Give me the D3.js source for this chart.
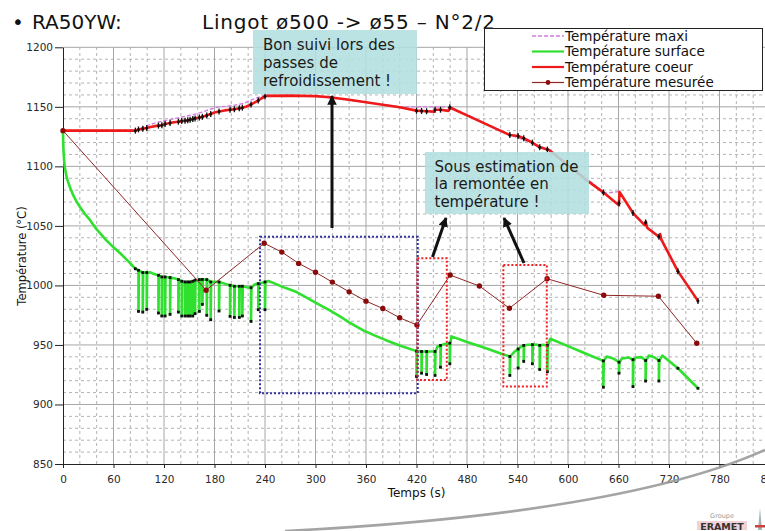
<!DOCTYPE html>
<html>
<head>
<meta charset="utf-8">
<script src="https://cdn.jsdelivr.net/npm/d3@7"></script>
<style>
  html, body { margin: 0; padding: 0; background: #fff; }
  svg { display: block; font-family: "DejaVu Sans", Verdana, sans-serif; }
</style>
</head>
<body>
<svg id="chart" width="765" height="531"></svg>
<script>
// ---- axes ----
const xTickValues = [0, 60, 120, 180, 240, 300, 360, 420, 480, 540, 600, 660, 720, 780, 840];
const yTickValues = [850, 900, 950, 1000, 1050, 1100, 1150, 1200];

// ---- legend ----
const seriesNames = ["Température maxi", "Température surface", "Température coeur", "Température mesurée"];

// ---- series: [time (s), temperature (°C)] ----
const maxiTemp = [
  [0, 1130], [88, 1130.5], [95, 1133], [105, 1135.5], [115, 1137.5], [125, 1139], [135, 1140.5],
  [145, 1142], [155, 1143.5], [165, 1145.5], [175, 1148], [185, 1150], [195, 1150.5], [205, 1151.5],
  [215, 1153], [225, 1156], [232, 1158], [241, 1159.5], [300, 1159.2], [400, 1150], [460, 1150],
  [531, 1126.5], [578, 1114], [644, 1077.5], [661, 1078.8], [677, 1061.2], [691, 1051], [708, 1041.2],
  [730, 1012.2], [754, 987.2]
];

// surface: [time, temperature, temperature at the bottom of a cooling pass (optional)]
const surfaceTemp = [
  [0, 1130], [0.3, 1118], [1, 1108], [2, 1100], [4, 1092], [6, 1087], [8.5, 1082], [12, 1076],
  [16, 1070.5], [20, 1066], [26, 1060], [32, 1055], [40, 1047], [50, 1039], [60, 1032], [68, 1027],
  [78, 1020], [86, 1014],
  [89.7, 1012.7, 978.2], [94.8, 1010.8, 977.6], [99.5, 1010.8, 979.9], [104, 1011], [108, 1009.5],
  [113.4, 1008.5, 976.8], [117.4, 1007.1, 974.3], [121.3, 1007.1, 974.3], [127.2, 1006.6, 975.7], [132, 1006],
  [137.1, 1004.9, 977.6], [141.1, 1003.5, 974.3], [145, 1002.9, 974.3], [148.2, 1002.9, 974.3],
  [151, 1002.9, 974.3], [154.2, 1003.5, 974.3], [156.9, 1004.4, 976.3], [162, 1004.9, 978.2],
  [165.6, 1005, 984.1], [170.8, 1004.9, 974.9], [175.5, 1002.9, 971.2], [180, 1003], [185.4, 1002.9, 978.5],
  [192, 1001.5], [198.5, 1000.1, 974], [203.6, 999.3, 973.1], [209.5, 999.3, 973.1], [213.1, 999.3, 974.3],
  [218, 998.5], [223.4, 998.1, 969.8], [228, 1001], [232, 1001.5, 979.6], [236, 1002], [240, 1002.9, 979.6],
  [244, 1003.7], [252, 1001.5], [260, 999], [268, 997], [277.6, 994.4], [290, 989.5], [300, 985.5],
  [317, 979], [330, 973.5], [340, 969], [356.7, 962.2], [370, 958], [384.4, 953.8], [400, 949.6],
  [420, 944.8, 923.5], [426, 944.5, 926.3], [432, 944.5, 925.2], [437, 944.5],
  [442, 944.5, 924.4], [445, 948.7], [448.5, 949.6, 931.3], [452, 950.5], [459.6, 951.5, 934.2], [461.6, 957.2],
  [480, 952.5], [500, 947.8], [520, 942.8], [530.9, 940.3, 924.4], [536, 944], [540.7, 946.6, 930.6],
  [544, 948.5], [547.4, 949.6, 936.2], [552, 950.2], [557.7, 950.2, 934.2], [562, 950.4], [566.4, 949.6, 929.4],
  [570, 950.2], [575.5, 949.6, 927.5], [579, 955.2], [600, 949], [620, 943], [642, 936.6, 914.5], [646, 940.3],
  [654, 938.5], [660.6, 935.5, 926.3], [664, 938.6], [672, 939.4], [677.2, 937.6, 915], [681, 939.4],
  [687, 939.8], [692.2, 936.9, 919.7], [696, 941.1], [703, 939.5], [708, 936.9, 919.7], [712, 941.1],
  [730.6, 930.4], [754.4, 913.6]
];

const coreTemp = [
  [0, 1130], [86, 1130], [89.7, 1131], [94.8, 1131.5], [99.5, 1132.3], [104, 1133], [111, 1134], [117.4, 1134.5],
  [121.3, 1135.5], [127.2, 1136.5], [132, 1137], [137.1, 1137.5], [141.1, 1138], [147, 1138.5], [151, 1139.2],
  [156.9, 1140.3], [162, 1141], [165.6, 1141.6], [170.8, 1142.8], [175.5, 1144], [180, 1145.2], [185.4, 1146],
  [192, 1147], [198.5, 1147.6], [203.6, 1148], [209.5, 1148.8], [213.1, 1149.3], [218, 1150.3], [223.4, 1152],
  [228, 1153.8], [232, 1155.3], [236, 1157.2], [241, 1159.2], [270, 1159.4], [300, 1159], [317, 1158],
  [340, 1156], [370, 1152.8], [400, 1149.7], [420, 1146.8], [432, 1146.3], [441, 1146], [442, 1147.5],
  [448.5, 1147.6], [458, 1146.6], [459.6, 1149.6], [461.6, 1148.8], [480, 1142.8], [500, 1136.3],
  [520, 1129.8], [530.9, 1126.3], [540.7, 1125.5], [547.4, 1123.6], [557.7, 1119.9], [566.4, 1116],
  [577.5, 1113.7], [600, 1101], [620, 1089.5], [643.6, 1077.3], [660.5, 1067.4], [661.2, 1078.6],
  [677, 1061], [691, 1050.6], [692.5, 1053.5], [694, 1048.5], [708, 1040.8], [709.5, 1043], [711, 1038.5],
  [730.5, 1012], [754.4, 987]
];

const measuredTemp = [
  [0, 1130], [170, 996], [239, 1035.4], [260, 1028], [280, 1018.5], [300, 1011], [320, 1002.8], [340, 994.6],
  [360, 986.8], [380, 980.6], [400, 972.8], [420.5, 966.8], [460, 1008.7], [494.7, 999.5], [530.4, 980.8],
  [575.2, 1005.6], [642.5, 991.7], [707.4, 990.9], [753, 951.4]
];

// recorded instants without a cooling drop (start of the passes and final points)
const extraMarkTimes = [86, 730.6, 754.4];

// highlighted zones: [t0, t1, T low, T high]
const zoneGood = [234.1, 421.5, 909.4, 1040.9];
const zonesUnder = [[421, 456, 920.6, 1022.8], [523.2, 574.8, 915, 1017.2]];

// ---- drawing ----
const svg = d3.select("#chart");
const x = d3.scaleLinear().domain([0, 840]).range([63, 770]);
const y = d3.scaleLinear().domain([850, 1200]).range([464, 47.3]);

// grid
const grid = svg.append("g");
d3.range(20, 841, 20).filter(t => t % 60 !== 0).forEach(t => {
  grid.append("line").attr("x1", x(t)).attr("x2", x(t)).attr("y1", y(850)).attr("y2", y(1200))
    .attr("stroke", "#b4b4b4").attr("stroke-width", 1).attr("stroke-dasharray", "3,3");
});
d3.range(860, 1200, 10).filter(v => v % 50 !== 0).forEach(v => {
  grid.append("line").attr("x1", x(0)).attr("x2", x(840)).attr("y1", y(v)).attr("y2", y(v))
    .attr("stroke", "#b4b4b4").attr("stroke-width", 1).attr("stroke-dasharray", "3,3");
});
xTickValues.filter(t => t > 0).forEach(t => {
  grid.append("line").attr("x1", x(t)).attr("x2", x(t)).attr("y1", y(850)).attr("y2", y(1200))
    .attr("stroke", "#a6a6a6").attr("stroke-width", 1);
});
yTickValues.filter(v => v > 850).forEach(v => {
  grid.append("line").attr("x1", x(0)).attr("x2", x(840)).attr("y1", y(v)).attr("y2", y(v))
    .attr("stroke", "#a6a6a6").attr("stroke-width", 1);
});

// axes
const axisY = svg.append("g").attr("transform", `translate(${x(0)},0)`)
  .call(d3.axisLeft(y).tickValues(yTickValues).tickSize(8).tickSizeOuter(0).tickPadding(2).tickFormat(d3.format("d")));
const axisX = svg.append("g").attr("transform", `translate(0,${y(850)})`)
  .call(d3.axisBottom(x).tickValues(xTickValues).tickSize(4).tickSizeOuter(0).tickPadding(8).tickFormat(d3.format("d")));
[axisX, axisY].forEach(a => {
  a.select(".domain").attr("stroke", "#222");
  a.selectAll(".tick line").attr("stroke", "#222");
  a.selectAll("text").attr("fill", "#2a2a2a").style("font-size", "10.5px").style("font-family", "DejaVu Sans, Verdana, sans-serif");
});

svg.append("text").attr("x", x(420)).attr("y", 496.5).attr("text-anchor", "middle")
  .style("font-size", "12px").attr("fill", "#111").text("Temps (s)");
svg.append("text").attr("transform", `translate(26,${256}) rotate(-90)`).attr("text-anchor", "middle")
  .style("font-size", "11.5px").attr("fill", "#111").text("Température (°C)");

const line = d3.line().x(d => x(d[0])).y(d => y(d[1]));

// surface temperature with its cooling-pass drops
const surfaceLine = surfaceTemp.flatMap(d => d.length > 2 ? [[d[0], d[1]], [d[0], d[2]], [d[0] + 0.5, d[1]]] : [[d[0], d[1]]]);
svg.append("path").attr("d", line(surfaceLine)).attr("fill", "none")
  .attr("stroke", "#2fe02f").attr("stroke-width", 2.6).attr("stroke-linejoin", "round");

// maximum temperature
svg.append("path").attr("d", line(maxiTemp)).attr("fill", "none")
  .attr("stroke", "#d27fe0").attr("stroke-width", 1.4).attr("stroke-dasharray", "4,2");

// core temperature
svg.append("path").attr("d", line(coreTemp)).attr("fill", "none")
  .attr("stroke", "#ee1a1a").attr("stroke-width", 2.6).attr("stroke-linejoin", "round");

// recorded instants
const passTimes = surfaceTemp.filter(d => d.length > 2).map(d => d[0]);
const markTimes = passTimes.concat(extraMarkTimes);
const surfaceAt = d3.scaleLinear().domain(surfaceTemp.map(d => d[0])).range(surfaceTemp.map(d => d[1]));
const coreAt = d3.scaleLinear().domain(coreTemp.map(d => d[0])).range(coreTemp.map(d => d[1])).clamp(true);

const surfaceMarks = surfaceTemp.filter(d => d.length > 2).flatMap(d => [[d[0], d[1]], [d[0], d[2]]])
  .concat(extraMarkTimes.map(t => [t, surfaceAt(t)]));
svg.append("g").selectAll("rect").data(surfaceMarks).join("rect")
  .attr("x", d => x(d[0]) - 1.4).attr("y", d => y(d[1]) - 1.4).attr("width", 2.8).attr("height", 2.8)
  .attr("fill", "#111");

const coreMarks = svg.append("g");
coreMarks.selectAll("line").data(markTimes).join("line")
  .attr("x1", t => x(t)).attr("x2", t => x(t))
  .attr("y1", t => y(coreAt(t)) - 3).attr("y2", t => y(coreAt(t)) + 3)
  .attr("stroke", "#111").attr("stroke-width", 1.3);
coreMarks.selectAll("circle").data(markTimes).join("circle")
  .attr("cx", t => x(t)).attr("cy", t => y(coreAt(t))).attr("r", 1.5).attr("fill", "#111");

// measured temperature
svg.append("path").attr("d", line(measuredTemp)).attr("fill", "none")
  .attr("stroke", "#8e2626").attr("stroke-width", 1);
svg.append("g").selectAll("circle").data(measuredTemp).join("circle")
  .attr("cx", d => x(d[0])).attr("cy", d => y(d[1])).attr("r", 2.7).attr("fill", "#8b0a0a");

// highlighted zones
svg.append("rect").attr("x", x(zoneGood[0])).attr("y", y(zoneGood[3]))
  .attr("width", x(zoneGood[1]) - x(zoneGood[0])).attr("height", y(zoneGood[2]) - y(zoneGood[3]))
  .attr("fill", "none").attr("stroke", "#34349e").attr("stroke-width", 2).attr("stroke-dasharray", "2,2");
zonesUnder.forEach(z => {
  svg.append("rect").attr("x", x(z[0])).attr("y", y(z[3]))
    .attr("width", x(z[1]) - x(z[0])).attr("height", y(z[2]) - y(z[3]))
    .attr("fill", "none").attr("stroke", "#ee2222").attr("stroke-width", 2).attr("stroke-dasharray", "2,2");
});

// arrows
const defs = svg.append("defs");
defs.append("marker").attr("id", "head").attr("viewBox", "0 0 10 10").attr("refX", 9).attr("refY", 5)
  .attr("markerWidth", 3.2).attr("markerHeight", 3.2).attr("orient", "auto")
  .append("path").attr("d", "M0,0 L10,5 L0,10 Z").attr("fill", "#111");
[[332, 228, 332, 96], [432.5, 257, 446, 218], [524, 263, 504, 218]].forEach(a => {
  svg.append("line").attr("x1", a[0]).attr("y1", a[1]).attr("x2", a[2]).attr("y2", a[3])
    .attr("stroke", "#111").attr("stroke-width", 3).attr("marker-end", "url(#head)");
});

// comment boxes
function noteBox(bx, by, bw, bh, lines, tx, ty, lh) {
  svg.append("rect").attr("x", bx).attr("y", by).attr("width", bw).attr("height", bh)
    .attr("fill", "#b3dfdf").attr("fill-opacity", 0.88);
  const t = svg.append("text").attr("x", tx).attr("y", ty).style("font-size", "15px").attr("fill", "#1a1a1a");
  lines.forEach((s, i) => t.append("tspan").attr("x", tx).attr("y", ty + i * lh).text(s));
}
noteBox(253, 30, 164, 64, ["Bon suivi lors des", "passes de", "refroidissement !"], 263, 50, 18);
noteBox(425, 152, 164, 62, ["Sous estimation de", "la remontée en", "température !"], 434.5, 171.5, 17.6);

// title
svg.append("text").attr("x", 12).attr("y", 29).style("font-size", "20px").attr("fill", "#111").text("•");
svg.append("text").attr("x", 32).attr("y", 29).style("font-size", "20px").attr("fill", "#111").text("RA50YW:");
svg.append("text").attr("x", 202).attr("y", 29).style("font-size", "20px").attr("fill", "#111")
  .attr("textLength", 293).attr("lengthAdjust", "spacing").text("Lingot ø500 -> ø55 – N°2/2");

// legend
const legend = svg.append("g");
legend.append("rect").attr("x", 484.5).attr("y", 28.5).attr("width", 278).attr("height", 62)
  .attr("fill", "#fff").attr("stroke", "#222").attr("stroke-width", 1);
const legendStyles = [
  { stroke: "#d27fe0", dash: "4,2", w: 1.4 },
  { stroke: "#2fe02f", dash: null, w: 2.2 },
  { stroke: "#ee1a1a", dash: null, w: 2.2 },
  { stroke: "#8e2626", dash: null, w: 1.2, dot: true }
];
seriesNames.forEach((name, i) => {
  const ly = 36 + i * 15.5;
  const s = legendStyles[i];
  legend.append("line").attr("x1", 532).attr("x2", 564).attr("y1", ly).attr("y2", ly)
    .attr("stroke", s.stroke).attr("stroke-width", s.w).attr("stroke-dasharray", s.dash);
  if (s.dot) legend.append("circle").attr("cx", 548).attr("cy", ly).attr("r", 2.4).attr("fill", "#8b0a0a");
  legend.append("text").attr("x", 565).attr("y", ly).attr("dy", "0.36em")
    .style("font-size", "13.5px").attr("fill", "#111").text(name);
});

// page decoration: swoosh and group logo
svg.append("path").attr("d", "M285,531 C480,521 660,497 765,450").attr("fill", "none")
  .attr("stroke", "#9a9a9a").attr("stroke-width", 2.6).attr("stroke-opacity", 0.9);
svg.append("rect").attr("x", 697).attr("y", 521).attr("width", 50).attr("height", 9).attr("fill", "#f3d2d6");
svg.append("text").attr("x", 722).attr("y", 518).attr("text-anchor", "middle")
  .style("font-size", "6.5px").attr("fill", "#999").text("Groupe");
svg.append("text").attr("x", 722).attr("y", 529.5).attr("text-anchor", "middle")
  .style("font-size", "9.5px").style("font-weight", "bold").attr("fill", "#333").text("ERAMET");
svg.append("path").attr("d", "M758,530 L760,508 L762,530 Z").attr("fill", "#9fb4b8");
svg.append("rect").attr("x", 755).attr("y", 525).attr("width", 10).attr("height", 2.5).attr("fill", "#d04040");
</script>
</body>
</html>
